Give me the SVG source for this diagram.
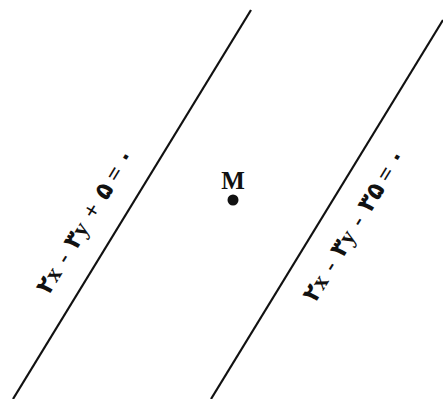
<svg xmlns="http://www.w3.org/2000/svg" width="443" height="399" viewBox="0 0 443 399">
<style>
.ln{stroke:#111;stroke-width:2.2;fill:none}
.lbl{font-family:"Liberation Serif","DejaVu Serif","DejaVu Sans",serif;font-size:24px;font-weight:bold;fill:#111;text-anchor:middle;direction:ltr;letter-spacing:1.5px}
.m{font-family:"Liberation Serif",serif;font-size:25px;font-weight:bold;fill:#111;text-anchor:middle}
</style>
<rect width="443" height="399" fill="#fff"/>
<g id="connectors">
<line class="ln" x1="251" y1="10" x2="13" y2="399"/>
<line class="ln" x1="443" y1="20" x2="211" y2="399"/>
</g>
<g id="label1"><text class="lbl" transform="translate(92,225) rotate(-58.5)">۲x - ۳y + ۵ = ۰</text></g>
<g id="label2"><text class="lbl" transform="translate(361,229) rotate(-58.5)">۲x - ۳y - ۳۵ = ۰</text></g>
<g id="M"><text class="m" x="233" y="189">M</text><circle cx="233" cy="200" r="5.5" fill="#111"/></g>
</svg>
